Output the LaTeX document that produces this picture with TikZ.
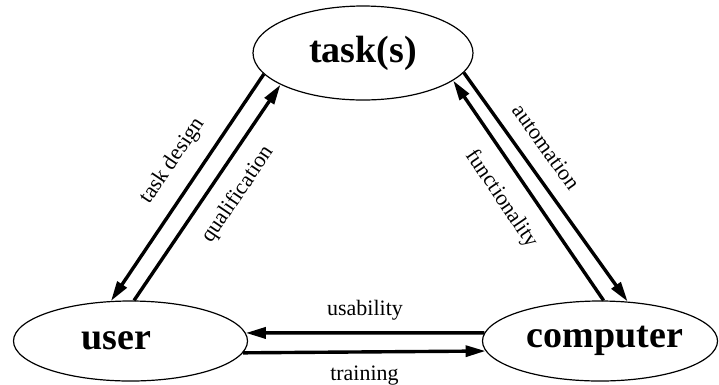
\documentclass[tikz,border=0pt]{standalone}
\usepackage{fontspec}
\setmainfont{Liberation Serif}
\usetikzlibrary{arrows.meta,shapes.geometric}
\begin{document}
\begin{tikzpicture}[x=1pt,y=-1pt,
  ell/.style={draw, ellipse, line width=1.2pt, inner sep=0pt,
    font=\fontsize{38}{40}\selectfont\bfseries},
  arr/.style={line width=3.4pt, -{Triangle[length=20pt,width=11pt]}},
  lbl/.style={font=\fontsize{22}{24}\selectfont, sloped, inner sep=0pt}
]
\useasboundingbox (0,0) rectangle (719,384);
\node[ell, minimum width=220pt, minimum height=94pt] (task) at (363,53) {task(s)};
\node[ell, minimum width=234pt, minimum height=80pt] (user) at (130.5,341) {user\kern28pt};
\node[ell, minimum width=234pt, minimum height=80pt] (computer) at (600,341) {\kern10pt computer};

\draw[arr] (task.192) -- node[lbl, above=15pt, pos=0.45] {task design} (user.116.9);
\draw[arr] (user.85.6) -- node[lbl, below=15pt, pos=0.56] {qualification} (task.201.6);
\draw[arr] (task.349) -- node[lbl, above=15pt, pos=0.385] {automation} (computer.55.2);
\draw[arr] (computer.85.6) -- node[lbl, below=15pt, pos=0.53] {functionality} (task.343);
\draw[arr] (computer.176) -- node[lbl, above=11pt] {usability} (user.4);
\draw[arr] (user.354.96) -- node[lbl, below=12pt] {training} (computer.185.04);
\end{tikzpicture}
\end{document}
